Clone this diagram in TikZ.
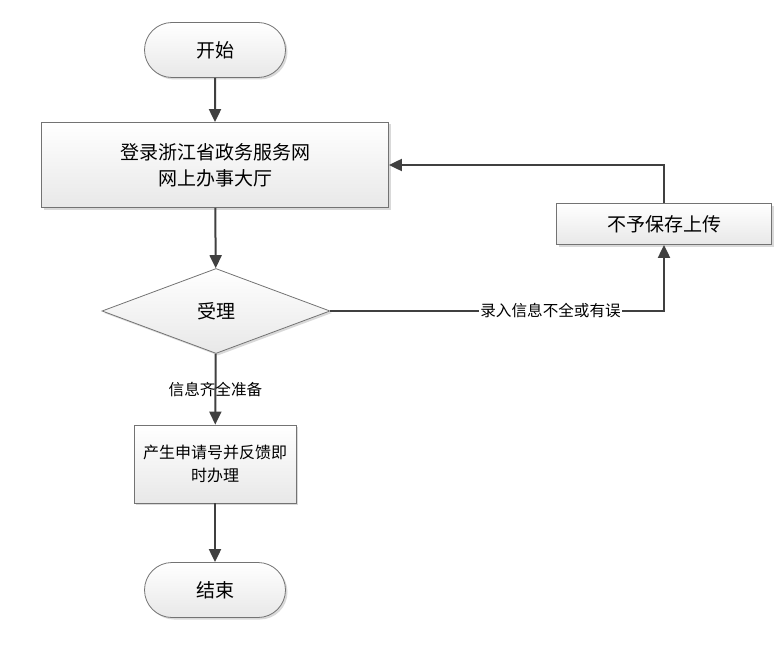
\documentclass[tikz,border=0pt]{standalone}
\usepackage{fontspec}
\newfontfamily\cjk{Noto Sans CJK SC}
\usetikzlibrary{shapes.geometric,shapes.misc,shadows,arrows.meta,positioning}
\tikzset{
  base/.style={draw=black!55,line width=0.8pt,top color=white,bottom color=black!9,
    drop shadow={shadow xshift=2pt,shadow yshift=-2pt,fill=black!25,opacity=0.6},
    font=\cjk\fontsize{19}{26}\selectfont,align=center,inner sep=0pt},
  term/.style={base,rounded rectangle,minimum width=141pt,minimum height=55pt},
  proc/.style={base,rectangle},
  decide/.style={base,diamond,minimum width=228pt,minimum height=85pt},
  lbl/.style={font=\cjk\fontsize{15.6}{18}\selectfont,inner sep=1pt,text=black},
  flow/.style={->,draw=black!75,line width=2pt},
}
\begin{document}
\begin{tikzpicture}[x=1pt,y=-1pt,on grid,>={Triangle[length=13pt,width=12pt]}]
\useasboundingbox (0,0) rectangle (779,650);
\node[term](q_s) at (215,50) {开始};
\node[proc,minimum width=347pt,minimum height=85pt](q_l)[below=115pt of q_s]{登录浙江省政务服务网\\网上办事大厅};
\node[decide](q_a)[below=146pt of q_l,xshift=1pt]{受理};
\node[proc,minimum width=215pt,minimum height=41pt](q_n)[above right=87pt and 448pt of q_a]{不予保存上传};
\node[proc,minimum width=162pt,minimum height=78pt,font=\cjk\fontsize{16}{23}\selectfont](q_g)[below=153pt of q_a,xshift=-1pt]{产生申请号并反馈即\\时办理};
\node[term](q_e)[below=126pt of q_g]{结束};
\draw[flow] (q_s) -- (q_l);
\draw[flow] (q_l) -- (q_a);
\draw[flow] (q_a.east) -| node[lbl,fill=white,pos=0.33] {录入信息不全或有误} (q_n);
\draw[flow] (q_n) |- (q_l);
\draw[flow] (q_a) -- node[lbl,midway] {信息齐全准备} (q_g);
\draw[flow] (q_g) -- (q_e);
\end{tikzpicture}
\end{document}
